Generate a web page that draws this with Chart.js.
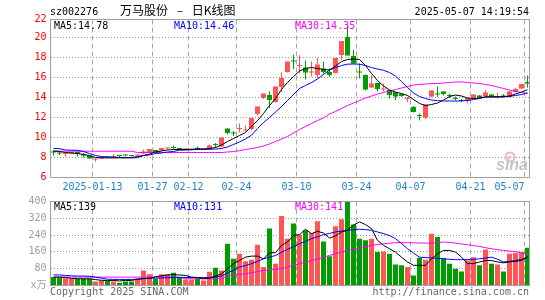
<!DOCTYPE html>
<html>
<head>
<meta charset="utf-8">
<script src="https://cdn.jsdelivr.net/npm/chart.js@4.4.1/dist/chart.umd.min.js"></script>
<style>
  html, body { margin: 0; padding: 0; background: #fff; }
  #wrap { position: relative; width: 545px; height: 300px; overflow: hidden; font-family: "DejaVu Sans Mono", monospace; }
  canvas { position: absolute; left: 0; }
  #cPrice { top: 0; }
  #cVol { top: 190px; }
  .txt { position: absolute; white-space: pre; font-size: 10px; line-height: 10px; color: #000; }
  #title { font: 12px/12px "Noto Sans CJK SC", sans-serif; word-spacing: 6px; }
</style>
</head>
<body>
<div id="wrap">
  <canvas id="cPrice" width="545" height="200"></canvas>
  <canvas id="cVol" width="545" height="110"></canvas>
  <div class="txt" style="left:50px;top:7px;">sz002276</div>
  <div class="txt" id="title" style="left:120px;top:4px;">万马股份 – 日K线图</div>
  <div class="txt" style="right:16px;top:7px;">2025-05-07 14:19:54</div>
  <div class="txt" style="left:50px;top:287px;color:#666;">Copyright 2025 SINA.COM</div>
  <div class="txt" style="right:16px;top:287px;color:#666;">http://finance.sina.com.cn</div>
</div>
<script>
// --- data ---
const dates = [
  '2025-01-02','2025-01-03','2025-01-06','2025-01-07','2025-01-08','2025-01-09','2025-01-10','2025-01-13','2025-01-14','2025-01-15',
  '2025-01-16','2025-01-17','2025-01-20','2025-01-21','2025-01-22','2025-01-23','2025-01-24','2025-01-27','2025-02-05','2025-02-06',
  '2025-02-07','2025-02-10','2025-02-11','2025-02-12','2025-02-13','2025-02-14','2025-02-17','2025-02-18','2025-02-19','2025-02-20',
  '2025-02-21','2025-02-24','2025-02-25','2025-02-26','2025-02-27','2025-02-28','2025-03-03','2025-03-04','2025-03-05','2025-03-06',
  '2025-03-07','2025-03-10','2025-03-11','2025-03-12','2025-03-13','2025-03-14','2025-03-17','2025-03-18','2025-03-19','2025-03-20',
  '2025-03-21','2025-03-24','2025-03-25','2025-03-26','2025-03-27','2025-03-28','2025-03-31','2025-04-01','2025-04-02','2025-04-03',
  '2025-04-07','2025-04-08','2025-04-09','2025-04-10','2025-04-11','2025-04-14','2025-04-15','2025-04-16','2025-04-17','2025-04-18',
  '2025-04-21','2025-04-22','2025-04-23','2025-04-24','2025-04-25','2025-04-28','2025-04-29','2025-04-30','2025-05-06','2025-05-07'
];

const open = [
  8.55,8.45,8.35,8.4,8.55,8.25,8.2,7.8,7.9,8.1,
  8.05,8.2,8.25,8.25,8.2,8.4,8.55,8.75,8.7,8.9,
  9.0,8.9,8.8,8.75,8.9,8.8,8.8,9.3,9.1,10.9,
  10.45,10.85,10.7,10.85,12.35,13.95,14.25,13.55,15.05,16.55,
  17.7,17.15,17.0,16.5,16.25,16.9,16.55,16.45,18.25,20.05,
  18.15,16.55,16.25,15.0,15.45,14.8,14.75,14.55,14.35,13.85,
  13.05,12.2,12.0,14.1,14.35,14.6,14.2,13.9,13.7,13.65,
  13.9,14.2,14.1,14.3,14.05,14.15,14.05,14.55,14.9,15.55
];
const high = [
  8.75,8.55,8.5,8.6,8.6,8.45,8.25,7.9,8.05,8.15,
  8.35,8.25,8.3,8.25,8.3,8.8,8.85,8.75,8.95,9.0,
  9.2,8.95,8.95,8.9,9.1,8.9,9.3,9.45,10.0,10.9,
  10.65,11.4,11.2,11.95,13.1,14.4,14.6,15.1,16.5,17.6,
  18.3,18.25,17.7,17.6,17.95,17.6,16.9,17.95,19.65,21.3,
  18.75,17.4,16.3,16.2,15.45,15.4,14.75,14.55,14.4,14.05,
  13.15,12.4,13.3,14.7,15.1,14.65,14.4,14.1,13.85,14.0,
  14.35,14.25,14.75,14.35,14.45,14.35,14.65,14.95,15.4,16.2
];
const low = [
  8.2,8.25,8.1,8.35,8.1,8.0,7.85,7.6,7.85,7.95,
  8.0,8.05,8.1,8.1,8.1,8.35,8.5,8.5,8.65,8.8,
  8.85,8.75,8.7,8.7,8.75,8.7,8.75,9.0,9.05,10.3,
  10.15,10.5,10.6,10.7,12.2,13.85,12.95,13.5,14.55,16.5,
  16.85,16.4,15.8,16.1,15.9,16.4,16.05,16.4,17.75,18.2,
  17.4,15.9,14.7,14.95,14.6,14.6,13.9,13.75,14.05,13.55,
  12.5,11.7,11.85,14.0,14.05,14.2,13.95,13.7,13.55,13.4,
  13.85,13.9,14.05,14.0,13.9,14.0,14.0,14.5,14.85,15.0
];
const close = [
  8.5,8.4,8.4,8.55,8.4,8.2,7.9,7.85,8.05,8.0,
  8.1,8.15,8.2,8.15,8.25,8.6,8.85,8.55,8.95,8.95,
  8.95,8.85,8.85,8.85,8.85,8.85,9.2,9.25,10.0,10.45,
  10.4,10.9,10.8,11.95,13.1,14.4,13.75,15.1,15.95,17.6,
  17.6,17.25,16.5,16.6,17.3,16.55,16.25,17.95,19.65,18.2,
  17.4,16.5,14.8,15.4,14.85,14.85,14.25,14.1,14.15,13.9,
  12.55,12.15,13.3,14.7,14.3,14.35,14.15,13.85,13.65,13.95,
  14.3,14.0,14.5,14.1,14.1,14.1,14.6,14.85,15.35,15.4
];
const ma5 = [
  8.65,8.6,8.5,8.45,8.4,8.3,8.2,8.0,7.97,7.96,
  7.96,7.97,7.98,8.0,8.1,8.2,8.35,8.55,8.65,8.75,
  8.8,8.8,8.8,8.82,8.85,8.85,8.9,9.0,9.25,9.6,
  9.9,10.2,10.5,11.1,11.7,12.4,13.2,13.9,14.8,15.5,
  16.1,16.65,16.9,17.0,16.9,16.8,16.75,17.15,17.6,17.8,
  17.85,17.8,17.2,16.4,15.7,15.15,14.75,14.55,14.4,14.2,
  13.8,13.4,13.2,13.3,13.45,13.75,14.1,14.25,14.15,13.95,
  13.9,13.95,14.05,14.05,14.05,14.05,14.15,14.35,14.55,14.78
];
const ma10 = [
  8.9,8.88,8.75,8.73,8.72,8.6,8.4,8.2,8.1,8.06,
  8.04,8.0,7.97,7.96,7.98,8.2,8.25,8.4,8.45,8.55,
  8.6,8.73,8.75,8.78,8.8,8.82,8.83,8.85,8.9,9.06,
  9.3,9.56,9.85,10.23,10.9,11.5,12.0,12.55,13.1,13.7,
  14.3,14.9,15.2,15.5,15.85,16.3,16.75,17.0,17.2,17.33,
  17.35,17.33,17.2,17.0,16.85,16.72,16.5,16.15,15.6,15.0,
  14.45,14.1,13.9,13.75,13.68,13.65,13.65,13.65,13.66,13.7,
  13.8,13.9,14.05,14.08,14.1,14.1,14.12,14.2,14.3,14.46
];
const ma30 = [
  8.63,8.63,8.63,8.63,8.63,8.63,8.63,8.63,8.63,8.63,
  8.63,8.63,8.63,8.63,8.5,8.5,8.5,8.5,8.5,8.5,
  8.5,8.5,8.5,8.5,8.5,8.5,8.5,8.5,8.5,8.55,
  8.6,8.68,8.8,8.9,9.0,9.15,9.35,9.6,9.85,10.1,
  10.45,10.8,11.1,11.4,11.7,11.95,12.35,12.6,12.9,13.2,
  13.45,13.7,13.95,14.15,14.35,14.5,14.65,14.8,14.95,15.1,
  15.25,15.3,15.35,15.4,15.4,15.45,15.5,15.55,15.55,15.5,
  15.45,15.4,15.3,15.2,15.05,14.9,14.75,14.6,14.5,14.4
];

const volume = [
  40,37,35,32,32,32,32,19,24,22,
  19,13,19,19,32,72,54,32,54,54,
  61,37,29,29,35,24,65,84,72,199,
  127,151,116,123,194,88,271,104,331,223,
  295,242,263,250,306,210,139,282,315,410,
  291,223,215,223,159,162,151,100,96,88,
  48,132,123,247,231,131,104,80,67,119,
  135,96,172,104,100,67,151,156,159,180
];
const volMa5 = [
  40,40,38,34,32,32,32,28,25,24,
  24,22,24,24,30,33,34,42,46,50,
  52,50,48,40,38,32,35,45,55,80,
  104,119,135,140,140,127,156,156,191,207,
  239,242,268,247,258,250,226,236,255,263,
  287,303,290,271,215,191,175,159,135,112,
  96,96,96,127,151,167,167,159,135,104,
  104,112,119,119,112,108,112,115,119,139
];
const volMa10 = [
  51,50,48,46,45,45,44,40,35,30,
  29,29,29,29,30,33,35,35,36,37,
  38,38,38,38,38,38,38,40,45,61,
  72,88,95,104,115,127,135,143,158,172,
  185,199,210,223,232,242,248,255,259,263,
  265,268,266,263,255,247,238,223,200,175,
  155,135,133,131,129,127,125,123,123,123,
  125,127,131,135,125,112,115,119,125,131
];
const volMa30 = [
  40,40,40,40,40,40,40,40,40,40,
  40,40,40,40,40,40,40,40,40,40,
  40,40,32,32,32,32,32,32,32,48,
  51,53,56,61,66,72,75,78,80,88,
  96,104,111,119,127,135,143,151,159,167,
  172,178,185,191,195,199,201,204,204,204,
  203,202,202,202,204,207,205,202,198,194,
  190,186,180,175,171,167,164,162,156,148
];

const axisDates = ['2025-01-13','2025-01-27','2025-02-12','2025-02-24','2025-03-10','2025-03-24','2025-04-07','2025-04-21','2025-05-07'];
const axisLabels = ['2025-01-13','01-27','02-12','02-24','03-10','03-24','04-07','04-21','05-07     '];
const priceTicks = [6, 8, 10, 12, 14, 16, 18, 20, 21.8];
const volTicks = [0, 80, 160, 240, 320, 400];
const priceLegend = ['MA5:14.78', 'MA10:14.46', 'MA30:14.35'];
const volLegend = ['MA5:139', 'MA10:131', 'MA30:141'];

// --- styling ---
const UP = '#ff5555', DOWN = '#009c00';
const MA_COLORS = ['#000000', '#0000ff', '#ff00ff'];
const LEGEND_X = [54, 174, 295];
Chart.defaults.font.family = '"DejaVu Sans Mono", "Noto Sans CJK SC", monospace';
Chart.defaults.font.size = 10;

const barColor = close.map((c, i) => c >= open[i] ? UP : DOWN);
const tickPos = axisDates.map(d => dates.indexOf(d) - 0.5);
const pts = arr => arr.map((v, i) => ({ x: i, y: v }));

function maLine(label, arr, color) {
  return { type: 'line', label, data: pts(arr), borderColor: color, borderWidth: 1,
           pointRadius: 0, tension: 0, order: 0 };
}

function xScale(showLabels, height) {
  return {
    type: 'linear', min: -0.5, max: 79.333, offset: false,
    afterBuildTicks: s => { s.ticks = tickPos.map(v => ({ value: v })); },
    afterFit: s => { s.height = height; s.paddingLeft = 0; s.paddingRight = 0; },
    ticks: { display: showLabels, autoSkip: false, maxRotation: 0, padding: 4, color: '#1e82c8',
             callback: (v, i) => axisLabels[i] },
    grid: { color: '#a8a8a8', drawTicks: false, offset: false },
    border: { display: false, dash: [5, 3] }
  };
}

function frame(legend, legendY, drawMark) {
  return {
    id: 'frame',
    beforeDatasetsDraw(chart) {
      if (!drawMark) return;
      const ctx = chart.ctx;
      ctx.save();
      ctx.strokeStyle = '#f2b8b8'; ctx.lineWidth = 2;
      ctx.beginPath(); ctx.arc(510, 157, 4.5, 0, Math.PI * 2); ctx.stroke();
      ctx.fillStyle = '#f2b8b8';
      ctx.beginPath(); ctx.arc(510, 157, 1.5, 0, Math.PI * 2); ctx.fill();
      ctx.font = 'italic bold 16px "Liberation Sans"';
      ctx.fillStyle = '#c4c4c4';
      ctx.fillText('sina', 496, 170);
      ctx.restore();
    },
    afterDraw(chart) {
      const { ctx, chartArea: a } = chart;
      ctx.save();
      ctx.strokeStyle = '#a0a0a0'; ctx.lineWidth = 1;
      ctx.strokeRect(a.left, a.top, a.right - a.left, a.bottom - a.top);
      ctx.font = '10px "DejaVu Sans Mono"';
      ctx.textBaseline = 'alphabetic';
      legend.forEach((t, i) => { ctx.fillStyle = MA_COLORS[i]; ctx.fillText(t, LEGEND_X[i], legendY); });
      ctx.restore();
    }
  };
}

// --- price panel ---
new Chart(document.getElementById('cPrice'), {
  type: 'bar',
  data: {
    datasets: [
      maLine('MA5', ma5, MA_COLORS[0]),
      maLine('MA10', ma10, MA_COLORS[1]),
      maLine('MA30', ma30, MA_COLORS[2]),
      { type: 'bar', label: 'body', data: open.map((o, i) => ({ x: i, y: [o, close[i]] })),
        backgroundColor: barColor, barThickness: 5, minBarLength: 1, grouped: false,
        borderWidth: 0, inflateAmount: 0, order: 1 },
      { type: 'bar', label: 'wick', data: low.map((l, i) => ({ x: i, y: [l, high[i]] })),
        backgroundColor: barColor, barThickness: 1, grouped: false,
        borderWidth: 0, inflateAmount: 0, order: 2 }
    ]
  },
  options: {
    responsive: false, animation: false, events: [],
    layout: { padding: { left: 0, right: 15.5, top: 19.5, bottom: 0 } },
    plugins: { legend: { display: false }, tooltip: { enabled: false } },
    scales: {
      x: xScale(true, 22.5),
      y: {
        min: 6, max: 21.8,
        afterBuildTicks: s => { s.ticks = priceTicks.map(v => ({ value: v })); },
        afterFit: s => { s.width = 50.5; s.paddingTop = 0; s.paddingBottom = 0; },
        ticks: { color: '#ff0000', padding: 4, callback: v => v > 21 ? '22' : String(v) },
        grid: { drawTicks: false,
                color: c => (c.tick && (c.tick.value === 6 || c.tick.value > 21)) ? 'rgba(0,0,0,0)' : '#9a9a9a' },
        border: { display: false, dash: [1, 2] }
      }
    }
  },
  plugins: [frame(priceLegend, 28.5, true)]
});

// --- volume panel ---
new Chart(document.getElementById('cVol'), {
  type: 'bar',
  data: {
    datasets: [
      maLine('MA5', volMa5, MA_COLORS[0]),
      maLine('MA10', volMa10, MA_COLORS[1]),
      maLine('MA30', volMa30, MA_COLORS[2]),
      { type: 'bar', label: 'volume', data: pts(volume), backgroundColor: barColor,
        barThickness: 5, grouped: false, borderWidth: 0, inflateAmount: 0, order: 1 }
    ]
  },
  options: {
    responsive: false, animation: false, events: [],
    layout: { padding: { left: 0, right: 15.5, top: 11.5, bottom: 0 } },
    plugins: { legend: { display: false }, tooltip: { enabled: false } },
    scales: {
      x: xScale(false, 14.5),
      y: {
        min: 0, max: 400,
        afterBuildTicks: s => { s.ticks = volTicks.map(v => ({ value: v })); },
        afterFit: s => { s.width = 50.5; s.paddingTop = 0; s.paddingBottom = 0; },
        ticks: { color: '#a0a0a0', padding: 4, callback: v => v === 0 ? 'x万' : String(v) },
        grid: { drawTicks: false,
                color: c => (c.tick && (c.tick.value === 0 || c.tick.value === 400)) ? 'rgba(0,0,0,0)' : '#9a9a9a' },
        border: { display: false, dash: [1, 2] }
      }
    }
  },
  plugins: [frame(volLegend, 19.5, false)]
});
</script>
</body>
</html>
